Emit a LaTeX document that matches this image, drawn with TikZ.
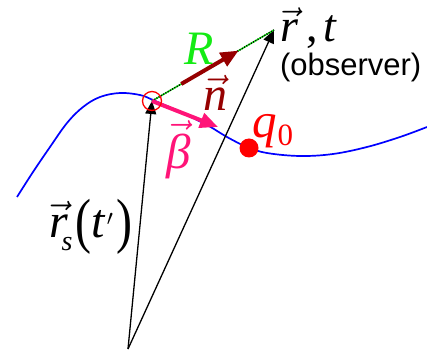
\RequirePackage{fix-cm}
\documentclass[tikz,border=0pt]{standalone}
\usepackage{fontspec}
\usepackage{graphicx}
\setmainfont{Liberation Serif}
\newfontfamily\obsfont{Liberation Sans}
\usetikzlibrary{arrows.meta,calc}
\definecolor{cgreen}{RGB}{20,235,20}
\definecolor{cdred}{RGB}{150,0,0}
\definecolor{cpink}{RGB}{255,20,120}
\definecolor{cred}{RGB}{255,0,0}
\definecolor{cblue}{RGB}{0,0,255}
\newcommand\vvec[1]{\ensuremath{\vec{\mbox{\itshape #1}}}}
\newcommand\tallpar[1]{\raisebox{-4pt}{\scalebox{1}[1.27]{#1}}}
\tikzset{
  posvec/.style={line width=1.3pt,-{Triangle[length=13pt,width=11pt]}},
  fatvec/.style={line width=4pt,-{Triangle[length=18pt,width=15pt]}},
  lbl/.style={anchor=base west,inner sep=0pt,outer sep=0pt},
}
\begin{document}
\begin{tikzpicture}[x=1pt,y=-1pt]
\useasboundingbox (0,0) rectangle (427,352);
% trajectory
\draw[cblue,line width=1.7pt] plot[smooth,tension=0.6] coordinates {
 (17,197) (33,172) (50,147) (67,123) (83,107) (100,97) (120,93) (140,95)
 (153,100) (180,112) (207,125) (227,137) (247,147) (267,153) (300,156)
 (333,154) (367,147) (400,137) (427,127)};
\coordinate (orig) at (128,349);
\coordinate (obs) at (274,30);
\coordinate (src) at (152,101);
\coordinate (btip) at (218,127);
% position vectors
\draw[posvec] (orig) -- (src);
\draw[posvec] (orig) -- (obs);
% R line
\draw[cgreen,line width=1.5pt] (src) -- (obs);
\draw[black,line width=1.5pt,dash pattern=on 1pt off 1.6pt] (src) -- (obs);
\draw[fatvec,cdred] ($(src)!0.24!(obs)$) -- ($(src)!0.71!(obs)$);
% beta
\draw[fatvec,cpink] (src) -- (btip);
% source marker
\node[draw=cred,circle,line width=1.3pt,minimum size=19pt,inner sep=0pt] (srcmark) at (src) {};
% charge
\node[fill=cred,circle,minimum size=19pt,inner sep=0pt] (q) at (249,148) {};
% labels
\node[lbl,font=\fontsize{46}{50}\selectfont] (robs) at (280,42) {\vvec{r}\kern9pt,\kern5pt\textit{t}};
\node[lbl,font=\obsfont\fontsize{31}{34}\selectfont] (obstxt) at (280,76) {(observer)};
\node[lbl,cgreen,font=\fontsize{48}{52}\selectfont\itshape] (Rl) at (184,65) {R};
\node[lbl,cdred,font=\fontsize{48}{52}\selectfont] (nl) at (203,111) {\vvec{n}};
\node[lbl,cpink,font=\fontsize{49}{52}\selectfont] (bl) at (166,169) {\vvec{β}};
\node[lbl,cred,font=\fontsize{49}{52}\selectfont] (ql) at (252,138) {\textit{q}\kern1pt\raisebox{-8pt}{\fontsize{31}{32}\selectfont 0}};
\node[lbl,font=\fontsize{48}{52}\selectfont] (rs) at (49,237) {\vvec{r}\kern-6pt\raisebox{-13pt}{\fontsize{28}{30}\selectfont\itshape s}\kern3pt\tallpar{(}\textit{t}\kern1pt\raisebox{12pt}{\fontsize{22}{22}\selectfont$\prime$}\kern4pt\tallpar{)}};
\end{tikzpicture}
\end{document}
